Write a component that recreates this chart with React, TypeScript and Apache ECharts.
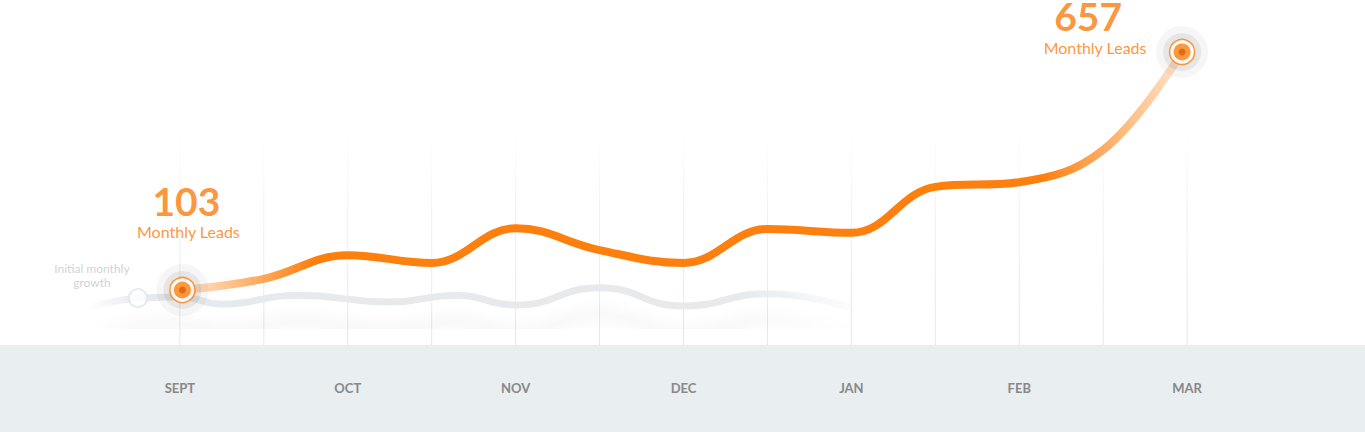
import React, { useEffect, useRef } from "react";
import * as echarts from "echarts";

const months = ["SEPT", "OCT", "NOV", "DEC", "JAN", "FEB", "MAR"];
const leadsX = [0.03, 1, 2, 3, 4, 5, 6, 7, 8, 9, 10, 11, 11.94];
const leadsValues = [103, 129, 184, 166, 247, 196, 166, 245, 236, 343, 354, 429, 657];
const baselineX = [-1.1, -0.5, 0, 0.5, 1.4, 2.5, 3.3, 4, 5, 6, 7, 8];
const baselineValues = [61, 84, 87, 70, 91, 75, 91, 68, 108, 66, 94, 61];
const gridLineX = [0, 1, 2, 3, 4, 5, 6, 7, 8, 9, 10, 11, 12];
const highlightIdx = [0, 12];
const initialIdx = 1;
const initialText = "Initial monthly\ngrowth";
const leadsText = "Monthly Leads";

const ORANGE = "#fd7f0e";
const TEXT_ORANGE = "#fb7a08";
const FONT = "Lato, 'Open Sans', sans-serif";
const Y_MIN = -25;
const Y_MAX = 778;

export default function App() {
  const ref = useRef<HTMLDivElement>(null);
  useEffect(() => {
    if (!ref.current) return;
    const chart = echarts.init(ref.current, null, { renderer: "svg" });
    const hl = highlightIdx.map((i) => [leadsX[i], leadsValues[i]]);
    const numOffsets = [[4, -89], [-94, -36]];
    const txtOffsets = [[6, -59], [-87, -4]];
    const dot = (size: number, style: any, z: number) => ({
      type: "scatter",
      data: hl,
      symbol: "circle",
      symbolSize: size,
      itemStyle: style,
      z,
      silent: true,
    });
    chart.setOption({
      animation: false,
      backgroundColor: "#ffffff",
      grid: { left: 12, right: 10, top: 0, bottom: 87 },
      xAxis: {
        type: "value",
        min: -2,
        max: 14,
        interval: 2,
        z: 10,
        axisLine: { show: false },
        axisTick: { show: false },
        splitLine: { show: false },
        axisLabel: {
          margin: 36,
          color: "#888888",
          fontWeight: "bold",
          fontSize: 13,
          fontFamily: FONT,
          formatter: (v: number) => months[v / 2] ?? "",
        },
      },
      yAxis: { type: "value", min: Y_MIN, max: Y_MAX, show: false },
      graphic: [
        {
          type: "rect",
          z: -10,
          shape: { x: 0, y: 345, width: 1365, height: 87 },
          style: { fill: "#e9eef1" },
        },
      ],
      series: [
        {
          type: "custom",
          z: 1,
          silent: true,
          data: gridLineX.map((x) => [x]),
          renderItem: (params: any, api: any) => {
            const x = api.value(0);
            const b = api.coord([x, Y_MIN]);
            const t = api.coord([x, 480]);
            return {
              type: "rect",
              shape: { x: b[0] - 0.5, y: t[1], width: 1, height: b[1] - t[1] },
              style: {
                fill: new echarts.graphic.LinearGradient(
                  0, t[1], 0, b[1],
                  [
                    { offset: 0, color: "rgba(228,231,234,0)" },
                    { offset: 0.4, color: "rgba(228,231,234,0.6)" },
                    { offset: 1, color: "rgba(228,231,234,1)" },
                  ],
                  true
                ),
              },
            };
          },
        },
        {
          type: "line",
          z: 2,
          data: baselineX.map((x, i) => [x, baselineValues[i]]),
          smooth: 0.5,
          symbol: "none",
          silent: true,
          lineStyle: {
            width: 7,
            cap: "round",
            color: new echarts.graphic.LinearGradient(0, 0, 1, 0, [
              { offset: 0, color: "rgba(230,234,237,0)" },
              { offset: 0.07, color: "rgba(230,234,237,1)" },
              { offset: 0.85, color: "rgba(230,234,237,1)" },
              { offset: 1, color: "rgba(230,234,237,0.15)" },
            ]),
            shadowColor: "rgba(40,60,80,0.06)",
            shadowBlur: 14,
            shadowOffsetY: 27,
          },
        },
        {
          type: "scatter",
          z: 3,
          silent: true,
          data: [
            {
              value: [baselineX[initialIdx], baselineValues[initialIdx]],
              label: {
                show: true,
                position: "inside",
                offset: [-46, -23],
                formatter: initialText,
                color: "#c4c7ca",
                fontSize: 12,
                lineHeight: 14,
                fontFamily: FONT,
                align: "center",
              },
            },
          ],
          symbol: "circle",
          symbolSize: 18,
          itemStyle: { color: "#ffffff", borderColor: "#e2e6e9", borderWidth: 2 },
        },
        {
          type: "line",
          z: 4,
          data: leadsX.map((x, i) => [x, leadsValues[i]]),
          smooth: 0.4,
          symbol: "none",
          silent: true,
          lineStyle: {
            width: 8,
            cap: "round",
            color: new echarts.graphic.LinearGradient(0, 0, 1, 0, [
              { offset: 0, color: "rgba(253,127,14,0.18)" },
              { offset: 0.13, color: "rgba(253,127,14,1)" },
              { offset: 0.86, color: "rgba(253,127,14,1)" },
              { offset: 1, color: "rgba(253,127,14,0.2)" },
            ]),
          },
        },
        dot(52, { color: "rgba(0,0,0,0.045)" }, 5),
        dot(38, { color: "rgba(0,0,0,0.08)" }, 6),
        dot(25, { color: "#ffffff", borderColor: ORANGE, borderWidth: 1.5 }, 7),
        dot(17, { color: ORANGE }, 8),
        dot(7, { color: "#d9620b" }, 9),
        {
          type: "scatter",
          z: 10,
          silent: true,
          symbolSize: 1,
          itemStyle: { color: "rgba(0,0,0,0)" },
          data: hl.map((v, i) => ({ value: v, label: { offset: numOffsets[i] } })),
          label: {
            show: true,
            position: "inside",
            formatter: (p: any) => String(p.value[1]),
            color: TEXT_ORANGE,
            fontSize: 39,
            fontWeight: "bold",
            fontFamily: FONT,
          },
        },
        {
          type: "scatter",
          z: 10,
          silent: true,
          symbolSize: 1,
          itemStyle: { color: "rgba(0,0,0,0)" },
          data: hl.map((v, i) => ({ value: v, label: { offset: txtOffsets[i] } })),
          label: {
            show: true,
            position: "inside",
            formatter: leadsText,
            color: TEXT_ORANGE,
            fontSize: 16,
            fontFamily: FONT,
          },
        },
      ],
    });
    return () => chart.dispose();
  }, []);
  return (
    <div
      ref={ref}
      style={{ position: "absolute", left: 0, top: 0, width: 1365, height: 432 }}
    />
  );
}
